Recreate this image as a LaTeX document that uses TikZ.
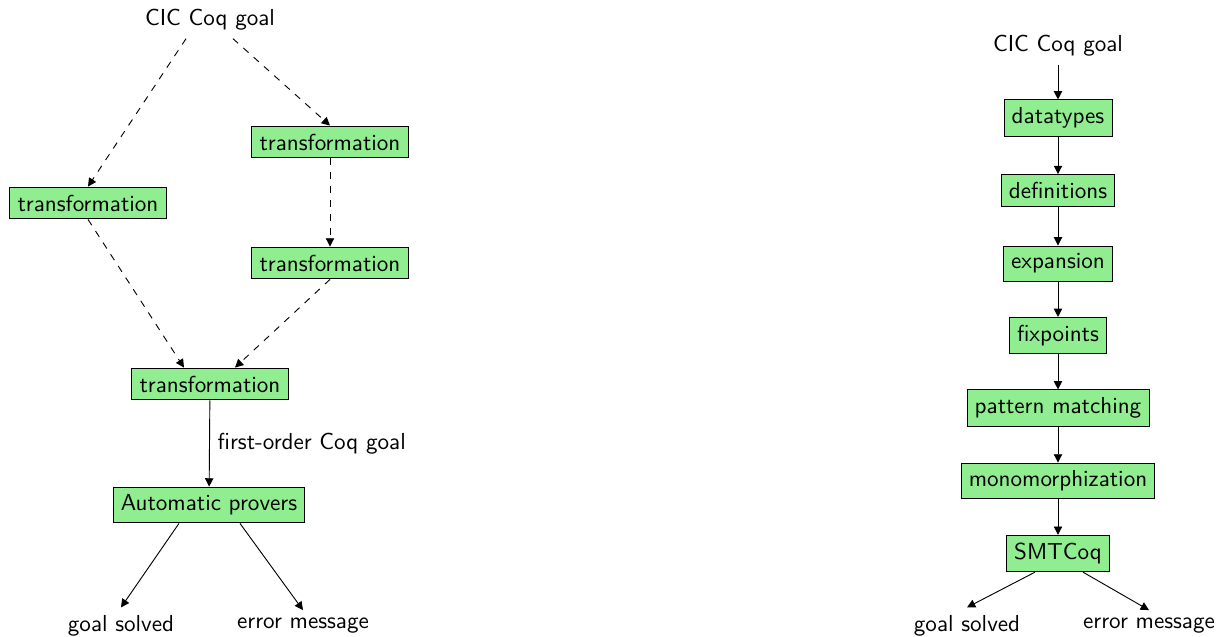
\documentclass[tikz,border=0pt]{standalone}
\usetikzlibrary{arrows.meta,calc}
\definecolor{stepgreen}{RGB}{144, 238, 144}

\begin{document}
\begin{tikzpicture}[x=0.01521cm, y=-0.01521cm, font=\sffamily,
    stepbox/.style={draw=black, fill=stepgreen, inner sep=3.33pt},
    flow/.style={-{Triangle[length=3.6pt,width=3.6pt]}},
    dflow/.style={flow, dashed}]
    \useasboundingbox (0,0) rectangle (1226,637);

    % Approche generale
    \node (cicA) at (210,20) {CIC Coq goal};
    \node[stepbox] (trA) at (330,142) {transformation};
    \node[stepbox] (trB) at (88,203) {transformation};
    \node[stepbox] (trC) at (330,263) {transformation};
    \node[stepbox] (trD) at (210,384) {transformation};
    \node[stepbox] (proversA) at (209,505) {Automatic provers};
    \node (solvedA) at (121,626) {goal solved};
    \node (errorA) at (303,626) {error message};

    \draw[dflow] ($(cicA.south)+(-24,0)$) -- (trB.north);
    \draw[dflow] ($(cicA.south)+(23,0)$) -- (trA.north);
    \draw[dflow] (trA) -- (trC);
    \draw[dflow] (trB.south) -- ($(trD.north)+(-26,0)$);
    \draw[dflow] (trC.south) -- ($(trD.north)+(25,0)$);
    \draw[flow] (trD) -- node[right] {first-order Coq goal} (proversA);
    \draw[flow] ($(proversA.south)+(-30,0)$) -- (solvedA.north);
    \draw[flow] ($(proversA.south)+(31,0)$) -- (errorA.north);

    % Chaine de SMTCoq
    \node (cicB) at (1058,46) {CIC Coq goal};
    \node[stepbox] (datatypes) at (1058,118) {datatypes};
    \node[stepbox] (definitions) at (1058,190.5) {definitions};
    \node[stepbox] (expansion) at (1058,263.5) {expansion};
    \node[stepbox] (fixpoints) at (1058,335.5) {fixpoints};
    \node[stepbox] (matching) at (1058,408) {pattern matching};
    \node[stepbox] (mono) at (1058,481) {monomorphization};
    \node[stepbox] (smtcoq) at (1058,553.5) {SMTCoq};
    \node (solvedB) at (967,626) {goal solved};
    \node (errorB) at (1149,626) {error message};

    \draw[flow] (cicB) -- (datatypes);
    \draw[flow] (datatypes) -- (definitions);
    \draw[flow] (definitions) -- (expansion);
    \draw[flow] (expansion) -- (fixpoints);
    \draw[flow] (fixpoints) -- (matching);
    \draw[flow] (matching) -- (mono);
    \draw[flow] (mono) -- (smtcoq);
    \draw[flow] ($(smtcoq.south)+(-23,0)$) -- (solvedB.north);
    \draw[flow] ($(smtcoq.south)+(25,0)$) -- (errorB.north);
\end{tikzpicture}
\end{document}
